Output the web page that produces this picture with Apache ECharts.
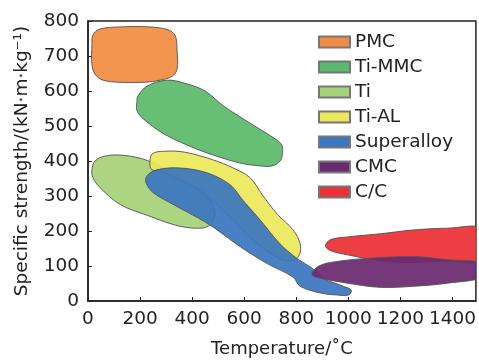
<!DOCTYPE html>
<html>
<head>
<meta charset="utf-8">
<script src="https://cdn.jsdelivr.net/npm/echarts@6/dist/echarts.min.js"></script>
<style>
  html, body { margin: 0; padding: 0; background: #fff; }
  #chart { width: 479px; height: 363px; }
</style>
</head>
<body>
<div id="chart"></div>
<script>
// material regions, outline points as [temperature (C), specific strength]
var materials = ['PMC', 'Ti-MMC', 'Ti', 'Ti-AL', 'Superalloy', 'CMC', 'C/C'];

var pmc = [[15, 732], [19, 760], [46, 777], [123, 783], [238, 783], [308, 775], [335, 758],
  [342, 718], [342, 662], [323, 642], [277, 631], [219, 625], [123, 625], [58, 631], [27, 648], [15, 676]];

var tiMmc = [[188, 569], [192, 586], [227, 614], [304, 631], [381, 620], [450, 600], [519, 558],
  [612, 513], [727, 459], [746, 442], [746, 417], [738, 400], [708, 386], [662, 386], [585, 394],
  [481, 417], [392, 442], [288, 479], [212, 521], [188, 544]];

var ti = [[15, 375], [27, 400], [65, 414], [123, 417], [200, 408], [258, 392], [335, 366], [412, 330],
  [469, 287], [488, 245], [462, 214], [412, 208], [335, 217], [227, 245], [123, 276], [46, 324], [19, 352]];

var tiAl = [[238, 389], [246, 420], [296, 428], [373, 425], [481, 403], [558, 380], [623, 352],
  [669, 304], [727, 248], [788, 203], [815, 163], [812, 132], [788, 115], [738, 121], [642, 169],
  [527, 254], [412, 324], [296, 366], [246, 375]];

var superalloy = [[223, 338], [227, 358], [265, 375], [354, 380], [458, 366], [546, 332], [596, 287],
  [662, 231], [738, 163], [804, 121], [862, 93], [904, 65], [981, 42], [1012, 31], [1000, 17],
  [958, 17], [892, 23], [815, 42], [788, 68], [688, 107], [585, 155], [481, 211], [419, 239],
  [327, 276], [250, 310]];

var cmc = [[862, 82], [885, 99], [931, 110], [1058, 121], [1250, 127], [1381, 118], [1520, 107],
  [1520, 70], [1381, 51], [1250, 42], [1123, 39], [996, 51], [892, 65], [862, 73]];

var cc = [[912, 158], [931, 175], [996, 183], [1123, 192], [1250, 203], [1381, 208], [1520, 206],
  [1520, 118], [1381, 115], [1250, 110], [1123, 115], [996, 132], [931, 144]];

var xTicks = [0, 200, 400, 600, 800, 1000, 1200, 1400];
var yTicks = [0, 100, 200, 300, 400, 500, 600, 700, 800];

var colors = {
  'PMC': '#f28c42',
  'Ti-MMC': '#5bb96b',
  'Ti': '#a5d276',
  'Ti-AL': '#ece85d',
  'Superalloy': '#3b76c0',
  'CMC': '#6b2a70',
  'C/C': '#ec3035'
};

function blob(name, pts) {
  return {
    name: name,
    type: 'custom',
    data: pts,
    itemStyle: { color: colors[name], borderColor: '#777', borderWidth: 1 },
    renderItem: function (params, api) {
      if (params.dataIndex !== 0) return;
      var cs = params.coordSys;
      return {
        type: 'polygon',
        shape: { points: pts.map(function (p) { return api.coord(p); }), smooth: 0.35 },
        style: { fill: colors[name], stroke: '#555', lineWidth: 1, opacity: 0.93 },
        clipPath: { type: 'rect', shape: { x: cs.x, y: cs.y, width: cs.width, height: cs.height } }
      };
    }
  };
}

var font = '"DejaVu Sans", sans-serif';

var myChart = echarts.init(document.getElementById('chart'));
var option = {
  animation: false,
  textStyle: { fontFamily: font },
  grid: {
    left: 88, right: 3, top: 21, bottom: 57,
    show: true, borderColor: '#222', borderWidth: 1.5
  },
  legend: {
    data: materials,
    orient: 'vertical',
    left: 318,
    top: 32,
    padding: 0,
    itemWidth: 31,
    itemHeight: 11,
    itemGap: 5,
    icon: 'rect',
    textStyle: { fontFamily: font, fontSize: 18.5, color: '#222', lineHeight: 20 },
    selectedMode: false
  },
  xAxis: {
    type: 'value',
    min: 0,
    max: 1490,
    interval: 200,
    name: 'Temperature/˚C',
    nameLocation: 'middle',
    nameGap: 39,
    nameTextStyle: { fontFamily: font, fontSize: 18, color: '#222' },
    axisLine: { lineStyle: { color: '#222', width: 1.5 } },
    axisTick: { inside: true, length: 4, lineStyle: { color: '#222' } },
    axisLabel: {
      fontFamily: font, fontSize: 18.5, color: '#222', margin: 9, showMaxLabel: false,
      formatter: function (v) { return xTicks.indexOf(v) >= 0 ? String(v) : ''; }
    },
    splitLine: { show: false }
  },
  yAxis: {
    type: 'value',
    min: 0,
    max: 800,
    interval: 100,
    name: 'Specific strength/(kN·m·kg⁻¹)',
    nameLocation: 'middle',
    nameGap: 56,
    nameTextStyle: { fontFamily: font, fontSize: 18.5, color: '#222' },
    axisLine: { lineStyle: { color: '#222', width: 1.5 } },
    axisTick: { inside: true, length: 4, lineStyle: { color: '#222' } },
    axisLabel: {
      fontFamily: font, fontSize: 18.5, color: '#222', margin: 9,
      formatter: function (v) { return yTicks.indexOf(v) >= 0 ? String(v) : ''; }
    },
    splitLine: { show: false }
  },
  series: [
    blob('Ti', ti),
    blob('Ti-AL', tiAl),
    blob('Superalloy', superalloy),
    blob('PMC', pmc),
    blob('Ti-MMC', tiMmc),
    blob('C/C', cc),
    blob('CMC', cmc)
  ]
};
myChart.setOption(option);
</script>
</body>
</html>
